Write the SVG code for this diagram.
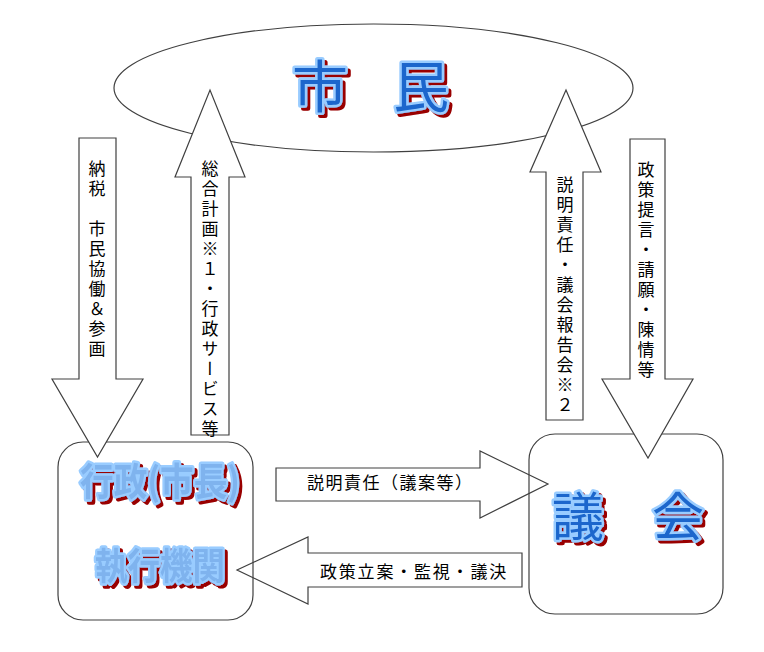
<svg xmlns="http://www.w3.org/2000/svg" width="764" height="652" viewBox="0 0 764 652">
<defs>
<style>
.shape{fill:#fff;stroke:#404040;stroke-width:1.2;stroke-linejoin:miter}
.box{fill:none;stroke:#404040;stroke-width:1.2}
.lbl{font-family:"Noto Sans CJK JP","Noto Sans CJK SC",sans-serif;font-size:17px;fill:#000}
.vt{writing-mode:vertical-rl;letter-spacing:3px}
.glow{fill:#1a66cc;stroke:#99ccff;stroke-width:5;stroke-linejoin:round;paint-order:stroke;filter:url(#sh)}
.glow2{fill:#7fb3ee;stroke:#99ccff;stroke-width:5;stroke-linejoin:round;paint-order:stroke;filter:url(#sh)}
.big{font-family:"Noto Sans CJK JP","Noto Sans CJK SC",sans-serif}
</style>
<filter id="sh" x="-10%" y="-20%" width="125%" height="150%">
<feOffset in="SourceAlpha" dx="3" dy="3" result="o"/>
<feFlood flood-color="#990000"/>
<feComposite in2="o" operator="in" result="s"/>
<feMerge><feMergeNode in="s"/><feMergeNode in="SourceGraphic"/></feMerge>
</filter>
</defs>
<rect width="764" height="652" fill="#fff"/>

<g id="citizens">
<ellipse class="shape" cx="373.5" cy="88" rx="259.5" ry="64"/>
</g>

<g id="connectors">
<polygon id="c-explain" class="shape" points="276,468 480,468 480,451 548,484 480,518 480,501 276,501"/>
<polygon id="c-policy" class="shape" points="522,553 308,553 308,537 237,570 308,604 308,587 522,587"/>
</g>

<g id="executive">
<rect class="box" x="58" y="442" width="195" height="178" rx="25" ry="25"/>
</g>
<g id="council">
<rect class="box" x="529" y="434" width="194" height="180" rx="26" ry="26"/>
</g>

<g id="vertical-connectors">
<polygon id="c-tax" class="shape" points="79,138 116,138 116,379 143,379 97.5,457 52,379 79,379"/>
<polygon id="c-plan" class="shape" points="191,435 191,177 175,177 210,90 245,177 229,177 229,435"/>
<polygon id="c-report" class="shape" points="546,420 546,172 530,172 566,90 601,172 583,172 583,420"/>
<polygon id="c-petition" class="shape" points="630,139 665,139 665,379 693,379 648,458 602,379 630,379"/>
</g>

<g id="labels">
<text class="lbl vt" x="97" y="160">納税　市民協働＆参画</text>
<text class="lbl vt" x="210" y="160">総合計画※１・行政サービス等</text>
<text class="lbl vt" x="565" y="176">説明責任・議会報告会※２</text>
<text class="lbl vt" x="646" y="161">政策提言・請願・陳情等</text>
<text class="lbl" x="307" y="489" style="letter-spacing:1.5px">説明責任（議案等）</text>
<text class="lbl" x="320" y="578" style="letter-spacing:1.8px">政策立案・監視・議決</text>
</g>

<g id="citizens-label" class="big" font-size="56" style="letter-spacing:-5.5px">
<text class="glow" x="292" y="107">市　民</text>
</g>

<g id="executive-label" class="big" font-weight="bold">
<text class="glow2" x="80" y="495" font-size="38" textLength="160" lengthAdjust="spacingAndGlyphs">行政(市長)</text>
<text class="glow2" x="95" y="580" font-size="37" textLength="130" lengthAdjust="spacingAndGlyphs">執行機関</text>
</g>

<g id="council-label" class="big" font-size="52" style="letter-spacing:-2px">
<text class="glow" x="552" y="536">議　会</text>
</g>
</svg>
